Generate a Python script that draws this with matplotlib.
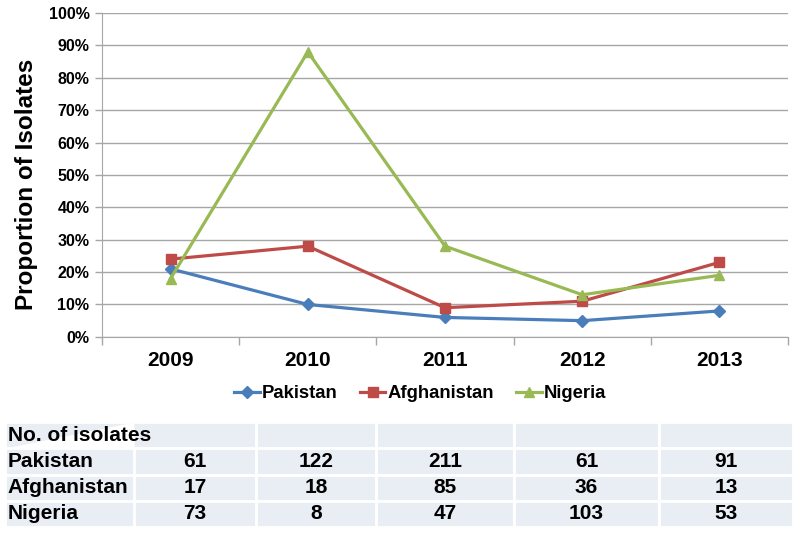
import matplotlib
import matplotlib.pyplot as plt
from matplotlib.ticker import FuncFormatter

years = ["2009", "2010", "2011", "2012", "2013"]
countries = ["Pakistan", "Afghanistan", "Nigeria"]

# proportions (%)
pakistan = [21, 10, 6, 5, 8]
afghanistan = [24, 28, 9, 11, 23]
nigeria = [18, 88, 28, 13, 19]

# number of isolates (table below the chart)
n_pakistan = [61, 122, 211, 61, 91]
n_afghanistan = [17, 18, 85, 36, 13]
n_nigeria = [73, 8, 47, 103, 53]


def main():
    matplotlib.rcParams['font.family'] = ['Liberation Sans', 'DejaVu Sans']
    matplotlib.rcParams['font.weight'] = 'bold'

    fig = plt.figure(figsize=(8, 5.33), dpi=100)
    ax = fig.add_axes([0.1275, 0.368, 0.8575, 0.6076])

    x = list(range(len(years)))
    ax.plot(x, pakistan, color='#4a7ebb', lw=2.3, marker='D', ms=6, label='Pakistan')
    ax.plot(x, afghanistan, color='#be4b48', lw=2.3, marker='s', ms=7, label='Afghanistan')
    ax.plot(x, nigeria, color='#98b954', lw=2.3, marker='^', ms=7.5, label='Nigeria')

    ax.set_xlim(-0.5, len(years) - 0.5)
    ax.set_ylim(0, 100)
    ax.set_yticks(range(0, 101, 10))
    ax.yaxis.set_major_formatter(FuncFormatter(lambda v, p: '%d%%' % v))
    ax.grid(axis='y', color='#a6a6a6', lw=1)
    ax.set_axisbelow(True)

    ax.set_xticks(x)
    ax.set_xticklabels(years, fontsize=15, fontweight='bold')
    ax.set_xticks([i - 0.5 for i in range(len(years) + 1)], minor=True)
    ax.tick_params(axis='x', which='major', length=0, pad=10)
    ax.tick_params(axis='x', which='minor', length=6, color='#a6a6a6', width=1)
    ax.tick_params(axis='y', length=5, color='#a6a6a6', width=1, labelsize=11.5, pad=4)
    for lab in ax.get_yticklabels():
        lab.set_fontweight('bold')

    for s in ['top', 'right']:
        ax.spines[s].set_visible(False)
    for s in ['left', 'bottom']:
        ax.spines[s].set_color('#a6a6a6')

    fig.text(0.033, 0.655, 'Proportion of Isolates', rotation=90, fontsize=17.5,
             fontweight='bold', ha='center', va='center')

    fig.legend(loc='center', bbox_to_anchor=(0.525, 0.261), ncol=3, frameon=False,
               fontsize=13.3, handlelength=1.4, handletextpad=0.1, columnspacing=1.2)

    # table of isolate counts
    tax = fig.add_axes([5 / 800, 1 - 527 / 533, 788 / 800, 105 / 533])
    tax.axis('off')
    rows = [["", "", "", "", "", ""]]
    for name, vals in zip(countries, [n_pakistan, n_afghanistan, n_nigeria]):
        rows.append([name] + [str(v) for v in vals])
    widths = [129, 122, 120, 138, 145, 134]
    total = float(sum(widths))
    tbl = tax.table(cellText=rows, colWidths=[w / total for w in widths],
                    bbox=[0, 0, 1, 1], cellLoc='center')
    tbl.auto_set_font_size(False)
    for (r, c), cell in tbl.get_celld().items():
        cell.set_facecolor('#e9edf4')
        cell.set_edgecolor('white')
        cell.set_linewidth(2)
        t = cell.get_text()
        t.set_fontsize(15)
        t.set_fontweight('bold')
        if c == 0:
            t.set_ha('left')
            cell._loc = 'left'
            cell.PAD = 0.02
    tbl[0, 0].visible_edges = 'BTL'
    tbl[0, 1].visible_edges = 'BTR'
    tax.text(0.004, 0.875, "No. of isolates", transform=tax.transAxes, fontsize=15,
             fontweight='bold', ha='left', va='center', zorder=10)

    plt.savefig('out.png', dpi=100)


if __name__ == '__main__':
    main()
